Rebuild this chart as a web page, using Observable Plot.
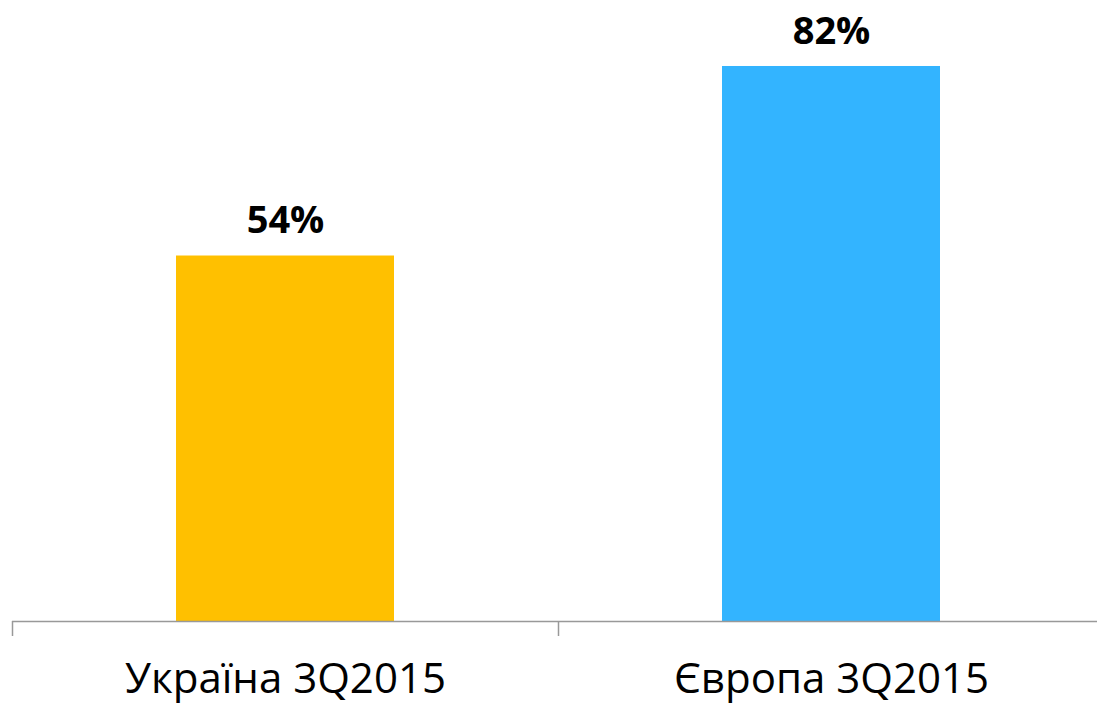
<!DOCTYPE html>
<html><head><meta charset="utf-8">
<script src="https://cdn.jsdelivr.net/npm/d3@7"></script>
<script src="https://cdn.jsdelivr.net/npm/@observablehq/plot@0.6"></script>
<style>body{margin:0;background:#fff;} svg{display:block;}</style>
</head><body><div id="chart"></div>
<script>
const categories = ["Україна 3Q2015", "Європа 3Q2015"];
const values = [54, 82];
const labels = ["54%", "82%"];
const colors = ["#FFC000", "#33B4FF"];

const data = categories.map((c, i) => ({cat: c, v: values[i], label: labels[i]}));
const xRange = [12, 1104];
const step = (xRange[1] - xRange[0]) / categories.length;

const chart = Plot.plot({
  width: 1097, height: 707,
  marginTop: 0, marginBottom: 86, marginLeft: 12, marginRight: 0,
  style: {fontFamily: "'Open Sans', sans-serif", background: "#fff"},
  x: {domain: categories, range: xRange, paddingInner: 0.6, paddingOuter: 0.3, label: null},
  y: {domain: [0, 91.75], axis: null},
  color: {domain: categories, range: colors},
  marks: [
    Plot.barY(data, {x: "cat", y: "v", fill: "cat"}),
    Plot.text(data, {x: "cat", y: "v", text: "label", dy: -35, fontSize: 38, fontWeight: "bold", fill: "#000"}),
    Plot.ruleY([0], {stroke: "#999", strokeWidth: 1.5}),
    Plot.axisX({tickSize: 15, dx: -step / 2, text: null, stroke: "#999", strokeWidth: 1.5}),
    Plot.axisX({tickSize: 0, tickPadding: 42, fontSize: 42, fill: "#000", label: null})
  ]
});
document.getElementById("chart").append(chart);
</script></body></html>
